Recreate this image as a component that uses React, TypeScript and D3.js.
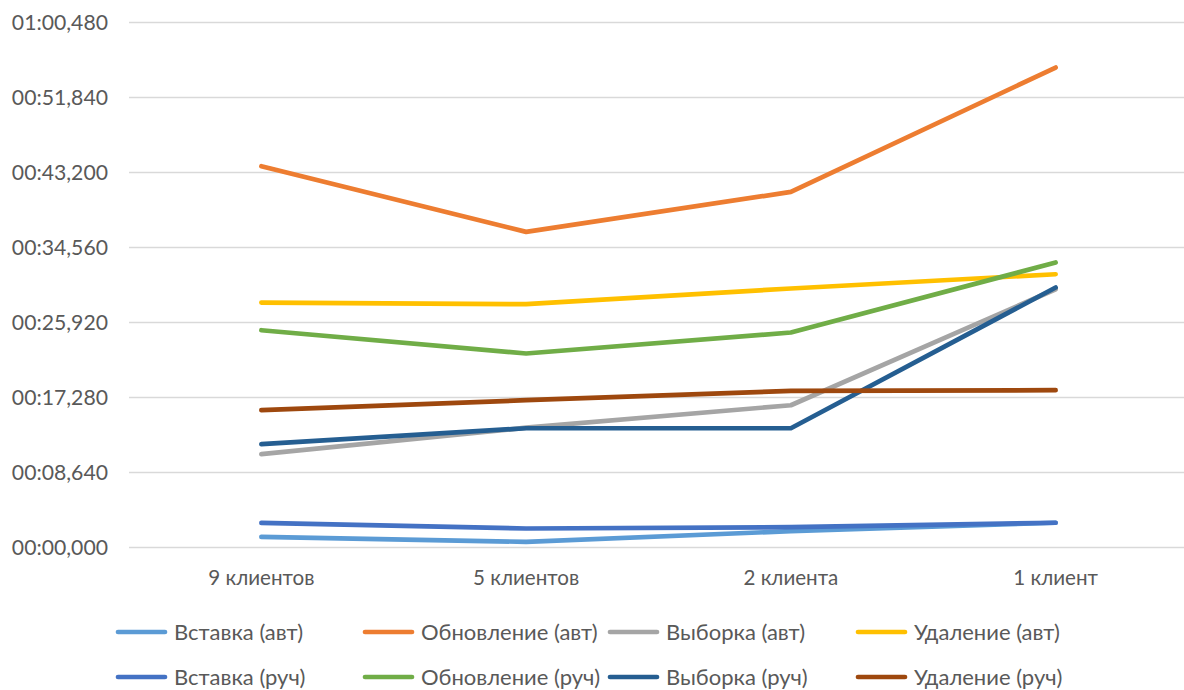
import React from "react";
import * as d3 from "d3";

// Load scenarios (x axis)
const categories = ["9 клиентов", "5 клиентов", "2 клиента", "1 клиент"];

// Duration of each operation, seconds
const insertAuto = [1.22, 0.65, 1.88, 2.85];
const updateAuto = [43.92, 36.36, 40.96, 55.29];
const selectAuto = [10.75, 13.8, 16.39, 29.75];
const deleteAuto = [28.22, 28.03, 29.84, 31.48];
const insertManual = [2.83, 2.19, 2.34, 2.85];
const updateManual = [25.03, 22.35, 24.77, 32.83];
const selectManual = [11.9, 13.74, 13.74, 29.95];
const deleteManual = [15.82, 16.97, 18.04, 18.12];

const seriesNames = [
  "Вставка (авт)",
  "Обновление (авт)",
  "Выборка (авт)",
  "Удаление (авт)",
  "Вставка (руч)",
  "Обновление (руч)",
  "Выборка (руч)",
  "Удаление (руч)",
];
const seriesValues = [
  insertAuto,
  updateAuto,
  selectAuto,
  deleteAuto,
  insertManual,
  updateManual,
  selectManual,
  deleteManual,
];
const seriesColors = [
  "#5B9BD5",
  "#ED7D31",
  "#A5A5A5",
  "#FFC000",
  "#4472C4",
  "#70AD47",
  "#255E91",
  "#9E480E",
];

// Axis ticks, seconds (step 00:08,640)
const yTicks = [0, 8.64, 17.28, 25.92, 34.56, 43.2, 51.84, 60.48];

const W = 1184;
const H = 690;
const FONT = "Lato, 'Open Sans', sans-serif";
const TEXT = "#595959";

function fmtTime(sec: number): string {
  const ms = Math.round(sec * 1000);
  const m = Math.floor(ms / 60000);
  const s = Math.floor((ms % 60000) / 1000);
  const f = ms % 1000;
  const p = (n: number, w: number) => String(n).padStart(w, "0");
  return `${p(m, 2)}:${p(s, 2)},${p(f, 3)}`;
}

export default function App() {
  const x = d3.scaleBand<string>().domain(categories).range([129, 1188]).padding(0);
  const cx = (c: string) => (x(c) as number) + x.bandwidth() / 2;
  const y = d3.scaleLinear().domain([0, 60.48]).range([547.5, 22.5]);

  const line = d3
    .line<number>()
    .x((_, i) => cx(categories[i]))
    .y((v) => y(v));

  const legendX = [118, 365, 610, 858];
  const legendY = [632, 677];

  return (
    <svg
      width={W}
      height={H}
      style={{ position: "absolute", left: 0, top: 0, background: "#fff" }}
      fontFamily={FONT}
    >
      {/* grid */}
      {yTicks.map((t) => (
        <line
          key={"g" + t}
          x1={129}
          x2={1188}
          y1={y(t)}
          y2={y(t)}
          stroke="#D9D9D9"
          strokeWidth={1.5}
        />
      ))}
      {/* y labels */}
      {yTicks.map((t) => (
        <text
          key={"yl" + t}
          x={108}
          y={y(t)}
          dy="0.36em"
          textAnchor="end"
          fontSize={21.2}
          fill={TEXT}
        >
          {fmtTime(t)}
        </text>
      ))}
      {/* x labels */}
      {categories.map((c) => (
        <text
          key={c}
          x={cx(c)}
          y={578}
          dy="0.36em"
          textAnchor="middle"
          fontSize={20.6}
          fill={TEXT}
        >
          {c}
        </text>
      ))}
      {/* series */}
      {seriesValues.map((vals, i) => (
        <path
          key={seriesNames[i]}
          d={line(vals) || ""}
          fill="none"
          stroke={seriesColors[i]}
          strokeWidth={4.7}
          strokeLinecap="round"
          strokeLinejoin="round"
        />
      ))}
      {/* legend */}
      {seriesNames.map((name, i) => {
        const lx = legendX[i % 4];
        const ly = legendY[Math.floor(i / 4)];
        return (
          <g key={"lg" + name}>
            <line
              x1={lx}
              x2={lx + 47}
              y1={ly}
              y2={ly}
              stroke={seriesColors[i]}
              strokeWidth={4.7}
              strokeLinecap="round"
            />
            <text x={lx + 56} y={ly} dy="0.36em" fontSize={22} fill={TEXT}>
              {name}
            </text>
          </g>
        );
      })}
    </svg>
  );
}
